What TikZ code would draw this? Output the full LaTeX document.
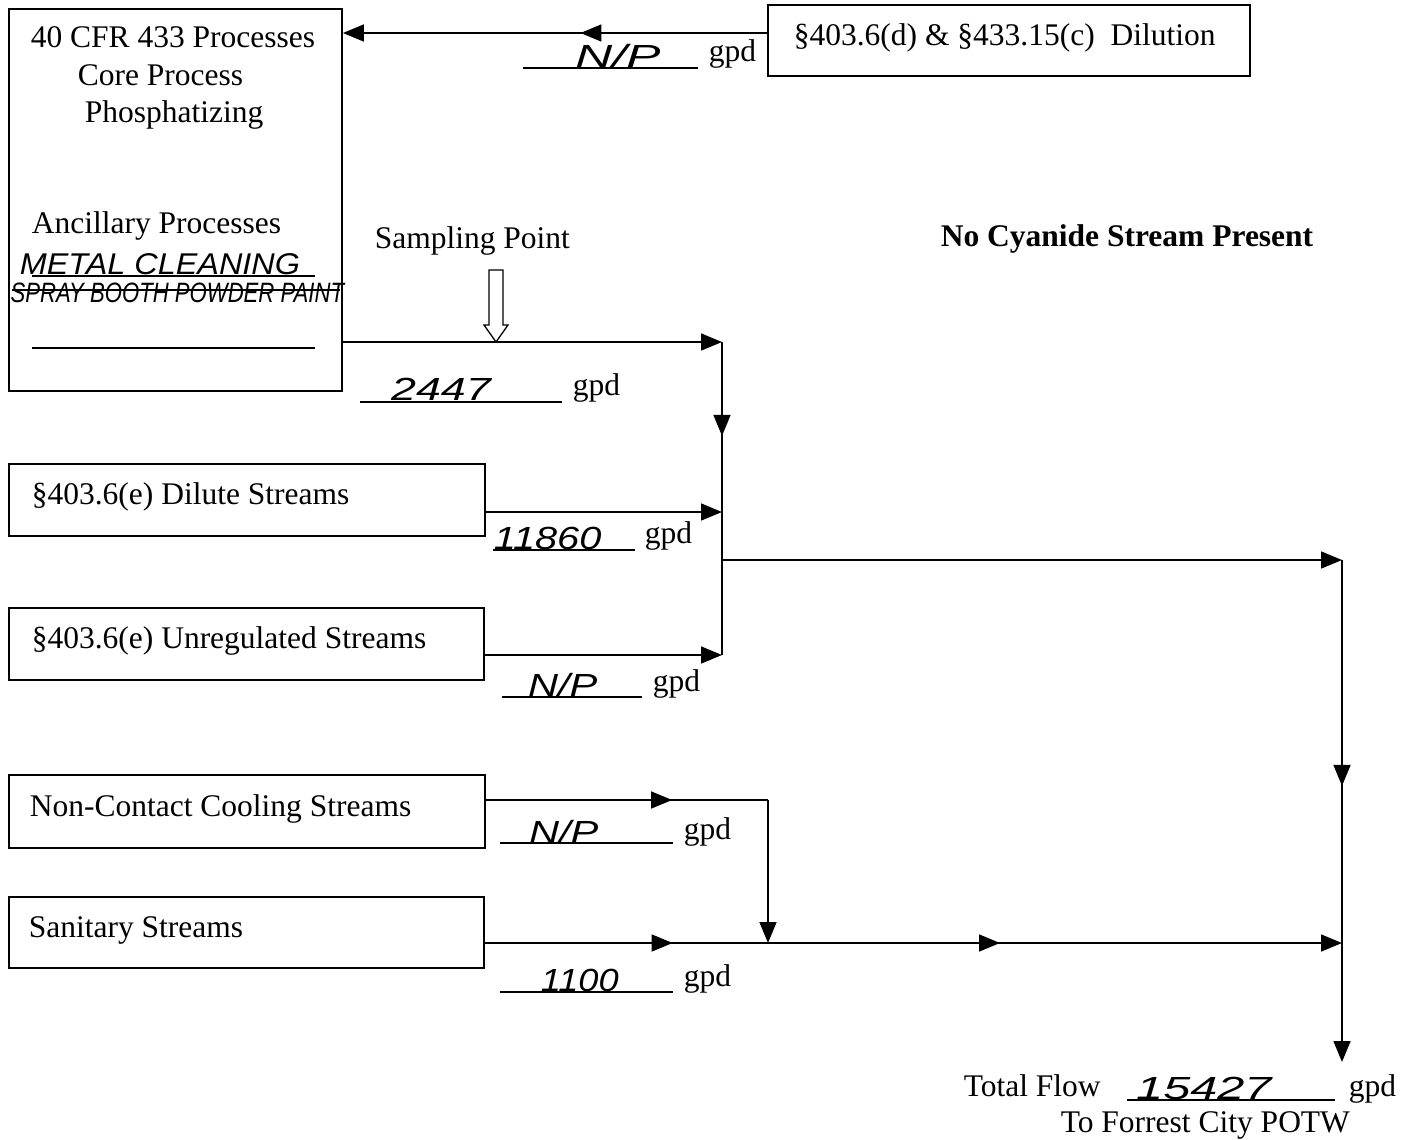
\documentclass[tikz,border=0pt]{standalone}
\usepackage{fontspec}
\setmainfont{Liberation Serif}
\newfontfamily\handfont{Liberation Sans}
\usetikzlibrary{arrows.meta,decorations.markings}
\begin{document}
\begin{tikzpicture}[x=1pt,y=-1pt,
  line width=1.6pt,
  tri/.tip={Triangle[length=21pt,width=17pt]},
  box/.style={draw,line width=1.8pt,inner sep=0},
  txt/.style={inner sep=0,anchor=base west,font=\fontsize{31.5}{37}\selectfont},
  btxt/.style={txt,font=\fontsize{31.5}{37}\selectfont\bfseries},
  hand/.style={inner sep=0,anchor=base west,font=\handfont\itshape\fontsize{32}{34}\selectfont},
  blank/.style={line width=1.2pt},
  flow/.style={-{tri}},
  mid/.style={postaction={decorate},decoration={markings,mark=at position #1 with {\arrow{tri}}}},
]
\useasboundingbox[fill=white] (0,0) rectangle (1414,1140);

% boxes
\node[box,minimum width=333pt,minimum height=382pt] (box1) at (175.5,200) {};
\node[box,minimum width=482pt,minimum height=71pt] (dil) at (1009,40.5) {};
\node[box,minimum width=476pt,minimum height=72pt] (dilute) at (247,500) {};
\node[box,minimum width=475pt,minimum height=72pt] (unreg) at (246.5,644) {};
\node[box,minimum width=476pt,minimum height=73pt] (noncool) at (247,811.5) {};
\node[box,minimum width=475pt,minimum height=71pt] (sanit) at (246.5,932.5) {};

% box texts
\node[txt] (t1) at (30,48) {40 CFR 433 Processes};
\node[txt] (t2) at (77,85) {Core Process};
\node[txt] (t3) at (84,122) {Phosphatizing};
\node[txt] (t4) at (31,233) {Ancillary Processes};
\node[hand,font=\handfont\itshape\fontsize{30}{32}\selectfont,xscale=1.08] (h1) at (19,274) {METAL CLEANING};
\node[hand,font=\handfont\itshape\fontsize{28}{30}\selectfont,xscale=0.79] (h2) at (10,302) {SPRAY BOOTH POWDER PAINT};
\draw[blank] (32,276) -- (315,276);
\draw[blank] (12,290) -- (340,290);
\draw[blank] (32,348) -- (315,348);

\node[txt] (tdil) at (793,46) {§403.6(d) \& §433.15(c)\ \ Dilution};
\node[txt] (tdilute) at (31,504) {§403.6(e) Dilute Streams};
\node[txt] (tunreg) at (31,648) {§403.6(e) Unregulated Streams};
\node[txt] (tnc) at (29,816) {Non-Contact Cooling Streams};
\node[txt] (tsan) at (28,937) {Sanitary Streams};

\node[txt] (samp) at (374,248) {Sampling Point};
\node[btxt] (nocn) at (940,246) {No Cyanide Stream Present};

% junction coordinates
\coordinate (dilout) at ([yshift=7.5pt]dil.west);
\coordinate (j1) at (722,342);
\coordinate (j2) at (722,512);
\coordinate (j3) at (722,655);
\coordinate (j4) at (722,560);
\coordinate (r1) at (1342,560);
\coordinate (r2) at (1342,943);
\coordinate (endc) at (1342,1062);
\coordinate (nc) at (768,800);
\coordinate (sj) at (768,943);

% connectors
\draw[flow,mid=0.44] (dilout) -- (dilout -| box1.east);
\draw[flow] (j1 -| box1.east) -- (j1);
\draw[mid=0.30] (j1) -- (j3);
\draw[flow] (j2 -| dilute.east) -- (j2);
\draw[flow] (j3 -| unreg.east) -- (j3);
\draw[flow] (j4) -- (r1);
\draw[flow,mid=0.45] (r1) -- (endc);
\draw[mid=0.66] (nc -| noncool.east) -- (nc);
\draw[flow] (nc) -- (sj);
\draw[flow,postaction={decorate},decoration={markings,
   mark=at position 0.219 with {\arrow{tri}},
   mark=at position 0.601 with {\arrow{tri}}}] (sj -| sanit.east) -- (r2);

% sampling arrow
\draw[line width=1.3pt,fill=white] (489,270) -- (503,270) -- (503,325) -- (508,325)
  -- (496,342) -- (484,325) -- (489,325) -- cycle;

% flow labels
\node[hand,xscale=1.6] (fdil) at (574,67) {N/P};
\draw[blank] (523,68) -- (698,68);
\node[txt] (gdil) at (708,62) {gpd};

\node[hand,xscale=1.4] (f1) at (390,400) {2447};
\draw[blank] (360,402) -- (562,402);
\node[txt] (g1) at (572,395) {gpd};

\node[hand,xscale=1.24] (f2) at (493,549) {11860};
\draw[blank] (493,550) -- (635,550);
\node[txt] (g2) at (644,543) {gpd};

\node[hand,xscale=1.3] (f3) at (527,696) {N/P};
\draw[blank] (502,697) -- (642,697);
\node[txt] (g3) at (652,691) {gpd};

\node[hand,xscale=1.3] (f4) at (528,843) {N/P};
\draw[blank] (500,843) -- (673,843);
\node[txt] (g4) at (683,839) {gpd};

\node[hand,xscale=1.13] (f5) at (540,991) {1100};
\draw[blank] (500,992) -- (673,992);
\node[txt] (g5) at (683,986) {gpd};

\node[txt] (tf) at (963,1096) {Total Flow};
\node[hand,xscale=1.52] (f6) at (1135,1099) {15427};
\draw[blank] (1127,1100) -- (1335,1100);
\node[txt] (g6) at (1348,1096) {gpd};
\node[txt] (potw) at (1060,1132) {To Forrest City POTW};
\end{tikzpicture}
\end{document}
